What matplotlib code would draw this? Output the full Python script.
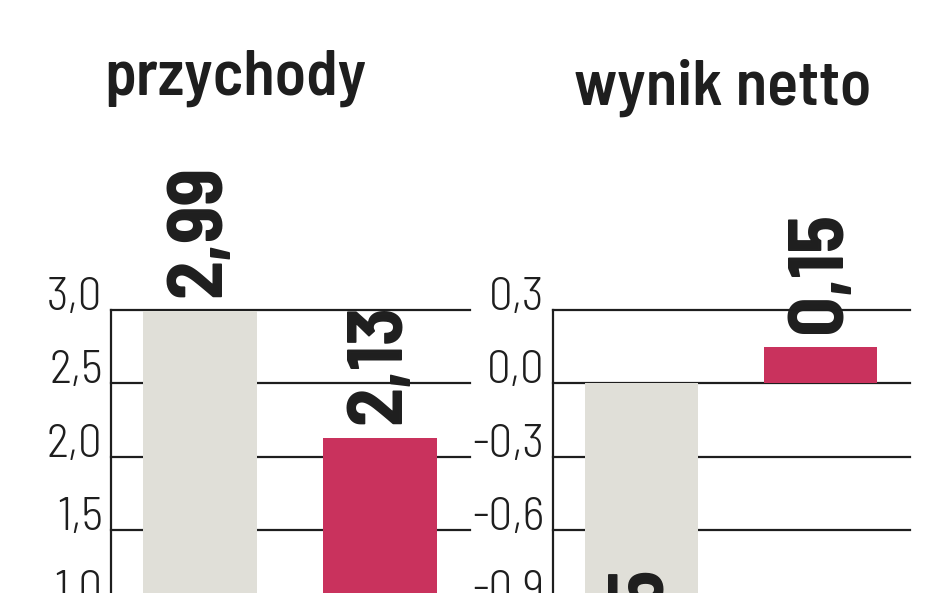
import matplotlib
matplotlib.use("Agg")
import matplotlib.pyplot as plt
import matplotlib.transforms as mtransforms

# ---- data ----
titles = ["przychody", "wynik netto"]
categories = ["poprzedni", "bieżący"]
revenue = [2.99, 2.13]
net_result = [-1.45, 0.15]
revenue_labels = ["2,99", "2,13"]
net_labels = ["-1,45", "0,15"]
revenue_ticks = [1.0, 1.5, 2.0, 2.5, 3.0]
revenue_ticklabels = ["1,0", "1,5", "2,0", "2,5", "3,0"]
net_ticks = [-1.2, -0.9, -0.6, -0.3, 0.0, 0.3]
net_ticklabels = ["-1,2", "-0,9", "-0,6", "-0,3", "0,0", "0,3"]

FONT = "Barlow Semi Condensed"
GRAY = "#e0dfd8"
RED = "#c9325d"
INK = "#1e1e1e"
bar_colors = [GRAY, RED]

W, H = 948, 593
fig = plt.figure(figsize=(W / 100, H / 100), dpi=100)

def px_axes(x0, x1, ytop, ybot):
    return [x0 / W, (H - ybot) / H, (x1 - x0) / W, (ybot - ytop) / H]

panels = [
    dict(rect=px_axes(111, 470, 310, 750), vals=revenue, labels=revenue_labels,
         ticks=revenue_ticks, ticklabels=revenue_ticklabels, ylim=(0.0, 3.0),
         title=titles[0], tx=235, ty=95),
    dict(rect=px_axes(553, 910, 310, 750), vals=net_result, labels=net_labels,
         ticks=net_ticks, ticklabels=net_ticklabels, ylim=(-1.5, 0.3),
         title=titles[1], tx=723, ty=105),
]

for p in panels:
    ax = fig.add_axes(p["rect"])
    x = list(range(len(p["vals"])))
    ax.bar(x, p["vals"], width=0.635, color=bar_colors, zorder=3, linewidth=0)
    ax.set_xlim(-0.495, 1.5)
    ax.set_ylim(*p["ylim"])
    ax.set_yticks(p["ticks"])
    ax.set_yticklabels(p["ticklabels"], fontfamily=FONT, fontweight=300, fontsize=34, color=INK)
    for t in ax.get_yticklabels():
        t.set_va("baseline")
    ax.tick_params(axis="y", length=0, pad=6)
    ax.set_xticks([])
    for s in ["top", "right", "bottom"]:
        ax.spines[s].set_visible(False)
    ax.spines["left"].set_linewidth(1.6)
    ax.spines["left"].set_color(INK)
    ax.spines["left"].set_zorder(4)
    for yv in p["ticks"]:
        ax.axhline(yv, color=INK, lw=1.6, zorder=1, clip_on=False)
    ax.patch.set_visible(False)

    for xi, v, lab in zip(x, p["vals"], p["labels"]):
        off = mtransforms.offset_copy(ax.transData, fig=fig, x=0, y=14 if v >= 0 else 18, units="dots")
        ax.text(xi, v, lab, rotation=90, ha="center", va="bottom",
                fontfamily=FONT, fontweight="bold", fontsize=56, color=INK,
                transform=off, zorder=5)

    fig.text(p["tx"] / W, (H - p["ty"]) / H, p["title"], ha="center", va="baseline",
             fontfamily=FONT, fontweight=600, fontsize=46, color=INK)

fig.savefig("out.png", dpi=100, facecolor="white")
